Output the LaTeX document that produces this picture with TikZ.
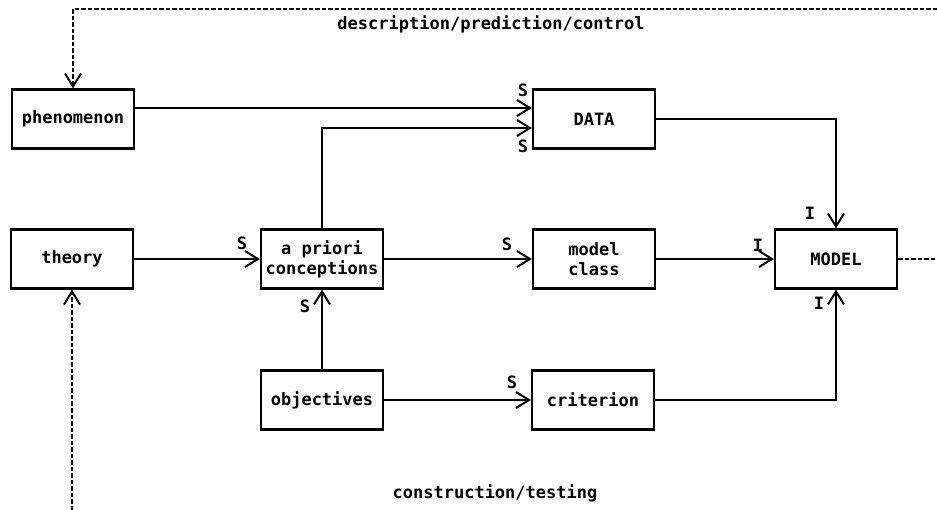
\documentclass[tikz,border=0pt]{standalone}
\usepackage{fontspec}
\setmonofont{DejaVu Sans Mono}
\usepackage{tikz}
\usetikzlibrary{positioning}
\usetikzlibrary{arrows.meta}

\begin{document}
\begin{tikzpicture}[x=1pt,y=-1pt,
    font=\ttfamily\bfseries\fontsize{17}{20}\selectfont,
    box/.style={shape=rectangle,draw=black,line width=2.2pt,minimum width=122pt,minimum height=59pt,align=center,inner sep=2pt},
    arr/.style={line width=2pt,-{Straight Barb[length=13pt,width=16pt,line width=2pt]}},
    fbline/.style={line width=2pt,dash pattern=on 4.5pt off 2pt},
    lbl/.style={inner sep=0pt}]
    \useasboundingbox (0,0) rectangle (937,510);

    \node[box] (phenomenon) at (73,119) {phenomenon};
    \node[box] (theory) at (72,259) {theory};
    \node[box] (apriori) at (322,259) {a priori\\conceptions};
    \node[box] (objectives) at (322,400) {objectives};
    \node[box] (data) at (594,119) {DATA};
    \node[box] (modelclass) at (594,259) {model\\class};
    \node[box] (criterion) at (593,400) {criterion};
    \node[box] (model) at (836,259) {MODEL};

    \coordinate (rightend) at (937,259);
    \coordinate (topright) at (937,9);
    \coordinate (bottomend) at (72,510);

    % S = selection, I = identification
    \draw [arr] ([yshift=11pt]phenomenon.east) -- ([yshift=11pt]data.west);
    \draw [arr] (apriori.north) |- ([yshift=-9pt]data.west);
    \draw [arr] (theory) -- (apriori);
    \draw [arr] (objectives) -- (apriori);
    \draw [arr] (apriori) -- (modelclass);
    \draw [arr] (objectives) -- (criterion);
    \draw [arr] (modelclass) -- (model);
    \draw [arr] (data.east) -| (model.north);
    \draw [arr] (criterion.east) -| (model.south);

    \draw [fbline] (model.east) -- (rightend);
    \draw [fbline,arr] (topright) -| (phenomenon.north);
    \draw [fbline,arr] (bottomend) -- (theory.south);

    \node[lbl] (s1) at (523,90) {S};
    \node[lbl] (s2) at (523,146) {S};
    \node[lbl] (s3) at (242,243) {S};
    \node[lbl] (s4) at (305,306) {S};
    \node[lbl] (s5) at (507,244) {S};
    \node[lbl] (s6) at (512,382) {S};
    \node[lbl] (i1) at (810,213) {I};
    \node[lbl] (i2) at (758,245) {I};
    \node[lbl] (i3) at (819,303) {I};

    \node[lbl] (use) at (491,24) {description/prediction/control};
    \node[lbl] (build) at (495,493) {construction/testing};
\end{tikzpicture}
\end{document}
